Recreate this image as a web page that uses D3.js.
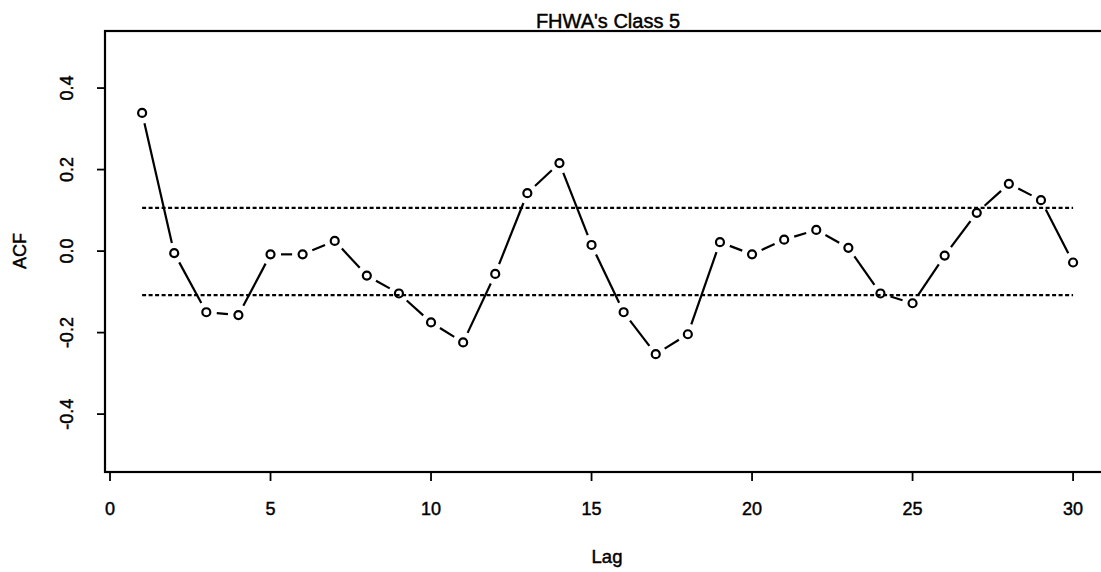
<!DOCTYPE html>
<html>
<head>
<meta charset="utf-8">
<script src="https://cdn.jsdelivr.net/npm/d3@7"></script>
<style>
  body { margin: 0; background: #fff; }
  text { font-family: "Liberation Sans", Arial, sans-serif; fill: #000; stroke: #000; stroke-width: 0.45px; }
</style>
</head>
<body>
<div id="chart"></div>
<script>
const lags = [1,2,3,4,5,6,7,8,9,10,11,12,13,14,15,16,17,18,19,20,21,22,23,24,25,26,27,28,29,30];
const acfValues = [0.339,-0.005,-0.150,-0.157,-0.008,-0.008,0.025,-0.060,-0.104,-0.175,-0.224,-0.056,0.142,0.216,0.015,-0.150,-0.253,-0.204,0.022,-0.008,0.028,0.052,0.008,-0.104,-0.128,-0.011,0.094,0.165,0.125,-0.028];
const ciBounds = [0.106, -0.108];
const xTicks = [0, 5, 10, 15, 20, 25, 30];
const yTicks = [-0.4, -0.2, 0.0, 0.2, 0.4];

const W = 1101, H = 572;
const plotLeft = 105, plotRight = 1110, plotTop = 31, plotBottom = 472;

const svg = d3.select("#chart").append("svg")
    .attr("width", W)
    .attr("height", H);

const x = d3.scaleLinear().domain([-0.156, 31.15]).range([plotLeft, plotRight]);
const y = d3.scaleLinear().domain([-0.542, 0.54]).range([plotBottom, plotTop]);

// frame
svg.append("rect")
    .attr("x", plotLeft).attr("y", plotTop)
    .attr("width", plotRight - plotLeft).attr("height", plotBottom - plotTop)
    .attr("fill", "none").attr("stroke", "#000").attr("stroke-width", 2.2);

// y axis ticks
const yAxis = svg.append("g");
yAxis.selectAll("line").data(yTicks).enter().append("line")
    .attr("x1", plotLeft - 8).attr("x2", plotLeft)
    .attr("y1", d => y(d)).attr("y2", d => y(d))
    .attr("stroke", "#000").attr("stroke-width", 1.8);
yAxis.selectAll("text").data(yTicks).enter().append("text")
    .attr("transform", d => `translate(73,${y(d)}) rotate(-90)`)
    .attr("text-anchor", "middle")
    .style("font-size", "18px")
    .text(d => d.toFixed(1));

// x axis ticks
const xAxis = svg.append("g");
xAxis.selectAll("line").data(xTicks).enter().append("line")
    .attr("x1", d => x(d)).attr("x2", d => x(d))
    .attr("y1", plotBottom).attr("y2", plotBottom + 9)
    .attr("stroke", "#000").attr("stroke-width", 1.8);
xAxis.selectAll("text").data(xTicks).enter().append("text")
    .attr("x", d => x(d)).attr("y", 515)
    .attr("text-anchor", "middle")
    .style("font-size", "18px")
    .text(d => d);

// labels
svg.append("text")
    .attr("x", 608).attr("y", 28)
    .attr("text-anchor", "middle")
    .style("font-size", "20px")
    .text("FHWA's Class 5");
svg.append("text")
    .attr("x", 607).attr("y", 563)
    .attr("text-anchor", "middle")
    .style("font-size", "18.5px")
    .text("Lag");
svg.append("text")
    .attr("transform", `translate(26,${y(0)}) rotate(-90)`)
    .attr("text-anchor", "middle")
    .style("font-size", "18px")
    .text("ACF");

// confidence bounds
svg.selectAll(".ci").data(ciBounds).enter().append("line")
    .attr("class", "ci")
    .attr("x1", x(lags[0])).attr("x2", x(lags[lags.length - 1]))
    .attr("y1", d => y(d)).attr("y2", d => y(d))
    .attr("stroke", "#000").attr("stroke-width", 2.2)
    .attr("stroke-dasharray", "4,2.5");

// broken line segments between points (type "b")
const pts = lags.map((l, i) => [x(l), y(acfValues[i])]);
const gap = 10.5;
const segs = [];
for (let i = 0; i < pts.length - 1; i++) {
    const [x1, y1] = pts[i], [x2, y2] = pts[i + 1];
    const len = Math.hypot(x2 - x1, y2 - y1);
    if (len <= 2 * gap) continue;
    const ux = (x2 - x1) / len, uy = (y2 - y1) / len;
    segs.push([x1 + ux * gap, y1 + uy * gap, x2 - ux * gap, y2 - uy * gap]);
}
svg.selectAll(".seg").data(segs).enter().append("line")
    .attr("class", "seg")
    .attr("x1", d => d[0]).attr("y1", d => d[1])
    .attr("x2", d => d[2]).attr("y2", d => d[3])
    .attr("stroke", "#000").attr("stroke-width", 2.2);

svg.selectAll(".pt").data(lags).enter().append("circle")
    .attr("class", "pt")
    .attr("cx", d => x(d))
    .attr("cy", (d, i) => y(acfValues[i]))
    .attr("r", 4)
    .attr("fill", "none")
    .attr("stroke", "#000")
    .attr("stroke-width", 2.2);
</script>
</body>
</html>
